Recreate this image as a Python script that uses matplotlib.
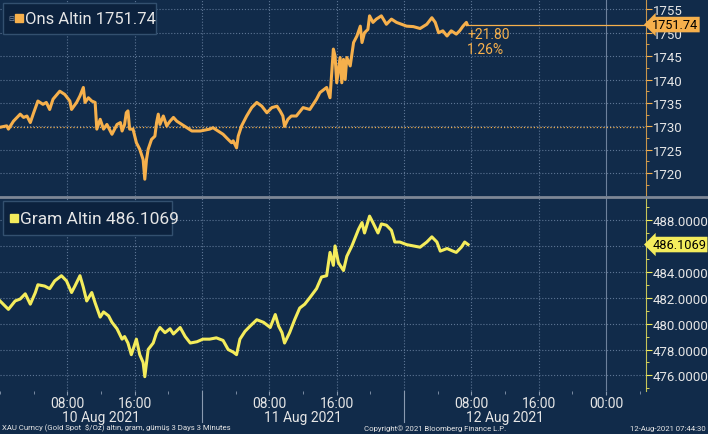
import matplotlib
matplotlib.use('Agg')
import matplotlib.pyplot as plt
import matplotlib.transforms as mtransforms
from matplotlib.lines import Line2D
from matplotlib.patches import Rectangle
from matplotlib.ticker import MultipleLocator, FixedLocator, FormatStrFormatter

# DATA (hours counted from 10 Aug 2021 00:00)
ons_hours = [0.0, 0.8, 1.0, 1.6, 2.4, 2.8, 3.2, 3.6, 4.0, 4.5, 5.1, 5.5, 5.9, 6.3, 7.1, 7.7,
             8.3, 8.5, 9.1, 9.5, 9.9, 10.1, 10.5, 10.9, 11.3, 11.5, 11.9, 12.3, 12.7, 13.3, 13.9,
             14.3, 14.5, 14.8, 15.0, 15.2, 15.4, 15.8, 16.2, 16.6, 17.0, 17.2, 17.4, 17.6, 18.0,
             18.4, 18.6, 18.8, 19.0, 19.4, 19.8, 20.2, 20.6, 21.0, 21.6, 22.2, 22.8, 23.8, 24.9,
             25.3, 25.9, 26.5, 27.1, 27.5, 27.7, 28.1, 28.3, 28.7, 29.3, 29.9, 30.5, 31.1, 31.7,
             32.3, 32.9, 33.3, 33.6, 33.8, 34.2, 34.6, 35.2, 36.0, 36.8, 37.6, 38.0, 38.8, 39.2,
             39.6, 39.8, 40.0, 40.4, 40.6, 40.8, 41.0, 41.2, 41.6, 42.0, 42.4, 42.8, 43.0, 43.3,
             43.7, 43.9, 44.3, 44.7, 45.3, 45.9, 46.5, 47.1, 47.7, 48.3, 49.1, 49.9, 50.7, 51.3,
             51.7, 52.1, 52.6, 53.1, 53.6, 54.2, 54.6, 55.0, 55.4, 55.5]
ons_price = [1729.8, 1730.1, 1729.4, 1731.1, 1732.6, 1731.9, 1732.2, 1730.8, 1732.9, 1735.4,
             1734.7, 1735.1, 1733.6, 1735.8, 1737.5, 1736.8, 1735.4, 1733.6, 1735.1, 1736.5,
             1738.3, 1735.1, 1736.1, 1735.4, 1735.1, 1729.4, 1731.5, 1729.4, 1730.4, 1728.3,
             1730.4, 1730.8, 1729.0, 1730.4, 1732.9, 1733.3, 1729.4, 1729.4, 1726.5, 1725.1,
             1722.9, 1718.7, 1722.9, 1725.1, 1727.2, 1727.9, 1730.8, 1732.6, 1730.4, 1732.2,
             1730.1, 1731.1, 1731.9, 1731.1, 1730.4, 1729.7, 1729.0, 1729.0, 1729.4, 1729.7,
             1729.0, 1728.3, 1727.2, 1726.5, 1726.9, 1725.4, 1727.9, 1730.1, 1732.2, 1734.0,
             1735.1, 1734.3, 1732.9, 1734.0, 1734.3, 1733.2, 1732.2, 1730.0, 1731.5, 1732.2,
             1732.2, 1734.0, 1733.6, 1735.8, 1737.2, 1738.3, 1736.1, 1746.5, 1745.0, 1739.3,
             1744.7, 1739.3, 1744.3, 1740.0, 1744.7, 1742.9, 1747.9, 1749.3, 1751.4, 1747.9,
             1750.0, 1750.7, 1753.6, 1752.2, 1752.9, 1753.6, 1751.8, 1752.9, 1752.2, 1751.8,
             1751.4, 1751.3, 1750.9, 1751.8, 1753.2, 1752.2, 1750.0, 1750.4, 1749.3, 1750.4,
             1749.7, 1750.4, 1751.4, 1752.2, 1751.74]

gram_hours = [0.0, 1.0, 1.8, 2.4, 3.0, 3.6, 4.2, 4.5, 5.3, 5.9, 6.5, 7.3, 7.9, 8.5, 8.9, 9.5,
              9.9, 10.3, 10.9, 11.3, 11.9, 12.3, 12.9, 13.3, 13.9, 14.5, 14.8, 15.2, 15.6, 16.2,
              16.6, 17.0, 17.2, 17.6, 18.2, 18.6, 19.0, 19.6, 20.2, 20.6, 21.4, 22.0, 22.6, 23.4,
              24.1, 24.9, 25.7, 26.5, 27.1, 27.7, 28.1, 28.5, 29.1, 29.7, 30.5, 31.3, 32.1, 32.7,
              33.1, 33.5, 33.8, 34.4, 35.0, 35.6, 36.2, 36.8, 37.6, 38.2, 38.8, 39.2, 39.6, 39.8,
              40.2, 40.8, 41.2, 41.8, 42.6, 43.0, 43.3, 43.9, 44.3, 44.9, 45.3, 45.9, 46.5, 46.9,
              47.5, 48.3, 49.1, 49.9, 50.7, 51.3, 51.9, 52.3, 53.1, 53.8, 54.2, 54.8, 55.2, 55.6]
gram_price = [481.75, 481.1, 481.75, 481.9, 482.3, 481.5, 482.4, 483.0, 482.9, 482.7, 483.3,
              483.7, 483.3, 482.4, 482.9, 483.7, 482.8, 481.75, 482.4, 481.6, 480.5, 480.9,
              480.6, 480.1, 479.6, 478.8, 479.0, 478.5, 477.6, 478.8, 477.6, 477.0, 475.9,
              478.0, 478.5, 479.3, 479.7, 479.3, 479.6, 479.2, 479.7, 479.0, 478.5, 478.6,
              478.8, 478.8, 478.9, 478.7, 478.0, 477.8, 477.6, 478.8, 479.4, 479.8, 480.3,
              480.1, 479.7, 480.7, 479.8, 479.3, 478.5, 479.3, 480.3, 481.2, 481.5, 482.0,
              482.7, 483.6, 483.7, 485.5, 484.5, 486.0, 484.7, 484.1, 485.2, 486.0, 487.3,
              487.8, 487.0, 488.3, 487.8, 487.0, 487.7, 487.6, 487.2, 486.3, 486.3, 486.1,
              486.0, 485.9, 486.3, 486.7, 486.3, 485.6, 485.8, 485.6, 485.5, 485.9, 486.3,
              486.1069]

ons_open = 1729.94
ons_last = 1751.74
ons_change = '+21.80'
ons_pct = '1.26%'
gram_last = 486.1069

tick_hours = [8, 16, 32, 40, 56, 64, 72]
tick_labels = ['08:00', '16:00', '08:00', '16:00', '08:00', '16:00', '00:00']
day_centers = [12, 36, 60]
day_labels = ['10 Aug 2021', '11 Aug 2021', '12 Aug 2021']
day_breaks = [24, 48]

# STYLE
BG = '#112b4a'
BOX = '#0c223e'
GRID = '#5d7594'
ORANGE = '#f6b04c'
YELLOW = '#f4ec5c'
TXT = '#e6e6e6'

plt.rcParams['font.family'] = ['Roboto', 'DejaVu Sans']

fig = plt.figure(figsize=(7.08, 4.35), dpi=100, facecolor=BG)
ax1 = fig.add_axes([0, 0.547, 0.912, 0.453])
ax2 = fig.add_axes([0, 0.099, 0.912, 0.4435], sharex=ax1)


def style_axis(ax, color, major, minor):
    ax.set_facecolor(BG)
    for side in ['top', 'left', 'bottom']:
        ax.spines[side].set_visible(False)
    ax.spines['right'].set_color(color)
    ax.spines['right'].set_alpha(0.8)
    ax.yaxis.tick_right()
    ax.yaxis.set_major_locator(MultipleLocator(major))
    ax.yaxis.set_minor_locator(MultipleLocator(minor))
    ax.tick_params(axis='y', which='major', colors=color, labelcolor=TXT, labelsize=9.5,
                   length=4, pad=1)
    ax.tick_params(axis='y', which='minor', colors=color, length=2)
    ax.grid(True, axis='y', which='major', color=GRID, linestyle=':', linewidth=0.8)
    for h in range(8, 72, 8):
        ax.axvline(h, color=GRID, linestyle=':', linewidth=0.8, zorder=0)
    ax.axvline(72, color='#6d819c', linewidth=0.8, zorder=0)


# TOP PANEL: ONS ALTIN
style_axis(ax1, ORANGE, 5, 2.5)
ax1.set_xlim(0, 76.7)
ax1.set_ylim(1715.1, 1757.2)
ax1.axhline(ons_open, color=ORANGE, linestyle=':', linewidth=0.9, zorder=1)
ax1.plot(ons_hours, ons_price, color=ORANGE, linewidth=2.2, zorder=3)
ax1.hlines(ons_last, ons_hours[-1], 76.7, color=ORANGE, linewidth=0.9, zorder=2)
ax1.annotate(ons_change + '\n' + ons_pct, xy=(ons_hours[-1], ons_last), xytext=(0, -2),
             textcoords='offset points', ha='left', va='top', color=ORANGE, fontsize=10,
             linespacing=1.05)
ax1.tick_params(axis='x', which='both', bottom=False, labelbottom=False)

# BOTTOM PANEL: GRAM ALTIN
style_axis(ax2, YELLOW, 2, 1)
ax2.set_ylim(474.8, 489.7)
ax2.yaxis.set_major_formatter(FormatStrFormatter('%.4f'))
ax2.plot(gram_hours, gram_price, color=YELLOW, linewidth=2.2, zorder=3)

ax2.xaxis.set_major_locator(FixedLocator(tick_hours))
ax2.xaxis.set_minor_locator(MultipleLocator(4))
ax2.set_xticklabels(tick_labels)
ax2.tick_params(axis='x', which='major', colors='#8a9ab0', labelcolor=TXT, labelsize=10,
                length=3, pad=0.5)
ax2.tick_params(axis='x', which='minor', colors='#8a9ab0', length=2)

blend2 = mtransforms.blended_transform_factory(ax2.transData, ax2.transAxes)
for c, lab in zip(day_centers, day_labels):
    ax2.text(c, -0.098, lab, transform=blend2, ha='center', va='top', color=TXT, fontsize=10)
for b in day_breaks:
    ax2.add_line(Line2D([b, b], [0, -0.16], transform=blend2, color='#8a9ab0', linewidth=0.8,
                        clip_on=False))

# price tags on the right axis
for ax, val, txt, col in [(ax1, ons_last, '1751.74', ORANGE), (ax2, gram_last, '486.1069', YELLOW)]:
    tr = mtransforms.blended_transform_factory(ax.transAxes, ax.transData)
    ax.text(1.01, val, txt, transform=tr, ha='left', va='center', color='black', fontsize=9.2,
            zorder=10, clip_on=False,
            bbox=dict(boxstyle='larrow,pad=0.1', fc=col, ec='none'))

# legend boxes
ax1.add_patch(Rectangle((0.004, 0.822), 0.237, 0.158, transform=ax1.transAxes, fc=BOX,
                        ec='#33506f', lw=1, zorder=5))
ax1.text(0.0175, 0.905, '\u229f', transform=ax1.transAxes, ha='center', va='center',
         color='#7f8ea3', fontsize=5, zorder=6, family='DejaVu Sans')
ax1.plot([0.029], [0.905], marker='s', markersize=5.5, color=ORANGE, transform=ax1.transAxes,
         zorder=6)
ax1.text(0.038, 0.9, 'Ons Altin 1751.74', transform=ax1.transAxes, ha='left', va='center',
         color=TXT, fontsize=12, zorder=6)

ax2.add_patch(Rectangle((0.004, 0.808), 0.262, 0.176, transform=ax2.transAxes, fc=BOX,
                        ec='#33506f', lw=1, zorder=5))
ax2.plot([0.0215], [0.897], marker='s', markersize=5.5, color=YELLOW, transform=ax2.transAxes,
         zorder=6)
ax2.text(0.031, 0.893, 'Gram Altin 486.1069', transform=ax2.transAxes, ha='left', va='center',
         color=TXT, fontsize=12.5, zorder=6)

# separator between panels
fig.add_artist(Line2D([0, 1], [0.545, 0.545], transform=fig.transFigure, color='#7d8796',
                      linewidth=2))

# footer
fig.text(0.003, 0.006, 'XAU Curncy (Gold Spot  $/Oz) alt\u0131n, gram, g\u00fcm\u00fc\u015f 3 Days 3 Minutes',
         ha='left', va='bottom', color=TXT, fontsize=5.6)
fig.text(0.615, 0.006, 'Copyright\u00a9 2021 Bloomberg Finance L.P.', ha='center', va='bottom',
         color=TXT, fontsize=5.6)
fig.text(0.997, 0.006, '12-Aug-2021 07:44:30', ha='right', va='bottom', color=TXT, fontsize=5.6)

fig.savefig('out.png', dpi=100, facecolor=BG)
